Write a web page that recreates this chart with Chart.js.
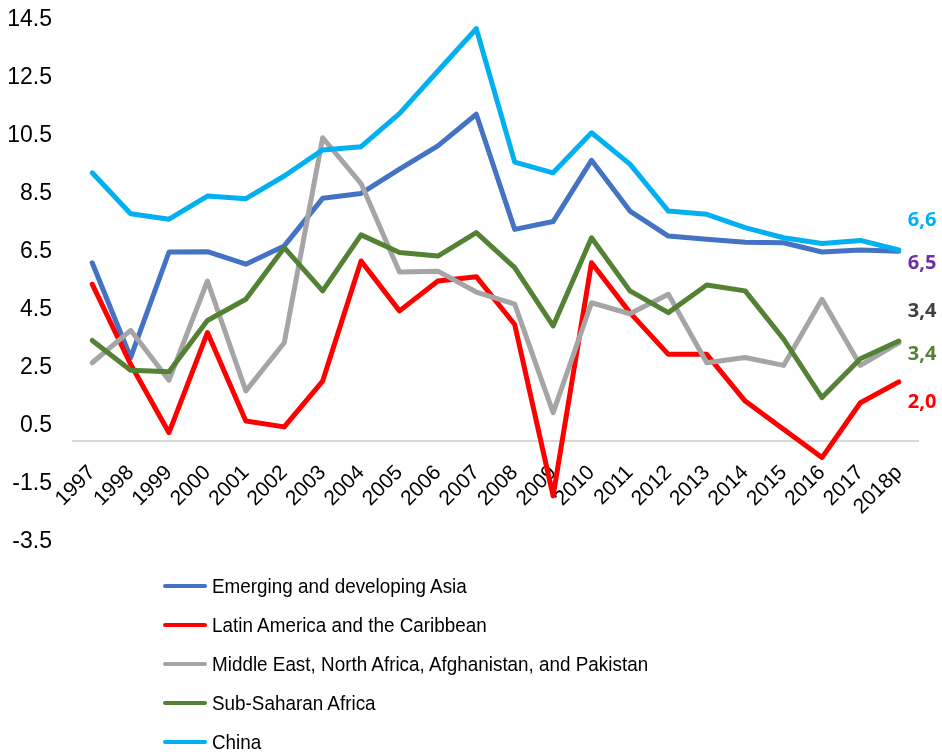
<!DOCTYPE html>
<html>
<head>
<meta charset="utf-8">
<script src="https://cdn.jsdelivr.net/npm/chart.js@4.4.0/dist/chart.umd.min.js"></script>
<style>
  html, body { margin: 0; padding: 0; background: #ffffff; }
  #wrap { position: relative; width: 942px; height: 756px; }
  #chart { position: absolute; left: 0; top: 0; }
  #legend { position: absolute; left: 163px; top: 566px; font-family: "Liberation Sans", Arial, sans-serif; font-size: 20.5px; color: #000; }
  .row { display: flex; align-items: center; height: 39px; white-space: nowrap; }
  .swatch { width: 44px; height: 4px; border-radius: 2px; margin-right: 5px; flex: none; }
  .txt { display: inline-block; transform: scaleX(0.92); transform-origin: left center; }
</style>
</head>
<body>
<div id="wrap">
  <canvas id="chart" width="942" height="756"></canvas>
  <div id="legend"></div>
</div>
<script>
// ---- Data ----
const years = ['1997','1998','1999','2000','2001','2002','2003','2004','2005','2006','2007','2008','2009','2010','2011','2012','2013','2014','2015','2016','2017','2018p'];

const seriesNames = [
  'Emerging and developing Asia',
  'Latin America and the Caribbean',
  'Middle East, North Africa, Afghanistan, and Pakistan',
  'Sub-Saharan Africa',
  'China'
];

const asia  = [6.13, 2.86, 6.50, 6.51, 6.08, 6.71, 8.35, 8.52, 9.36, 10.16, 11.25, 7.28, 7.55, 9.66, 7.91, 7.05, 6.94, 6.84, 6.82, 6.50, 6.57, 6.53];
const latam = [5.39, 2.63, 0.27, 3.72, 0.67, 0.47, 2.05, 6.19, 4.47, 5.50, 5.65, 4.00, -1.91, 6.13, 4.41, 2.97, 2.97, 1.36, 0.39, -0.59, 1.30, 2.02];
const mena  = [2.68, 3.80, 2.08, 5.50, 1.71, 3.37, 10.44, 8.86, 5.81, 5.84, 5.12, 4.70, 0.96, 4.75, 4.37, 5.04, 2.68, 2.86, 2.59, 4.87, 2.59, 3.37];
const ssa   = [3.45, 2.42, 2.37, 4.14, 4.87, 6.65, 5.16, 7.09, 6.48, 6.36, 7.17, 5.96, 3.95, 6.99, 5.16, 4.41, 5.36, 5.16, 3.50, 1.48, 2.82, 3.43];
const china = [9.23, 7.82, 7.63, 8.43, 8.34, 9.12, 10.02, 10.13, 11.27, 12.74, 14.20, 9.60, 9.23, 10.61, 9.53, 7.91, 7.80, 7.34, 6.99, 6.79, 6.90, 6.57];

const endLabels = ['6,5', '2,0', '3,4', '3,4', '6,6'];

const yMin = -3.5, yMax = 14.5, yStep = 2;

// ---- Styles ----
const lineColors  = ['#4472C4', '#FF0000', '#A5A5A5', '#548235', '#00B0F0'];
const labelColors = ['#7030A0', '#FF0000', '#404040', '#548235', '#00B0F0'];
const labelDy     = [12, 20, -31, 13, -30];

const seriesValues = [asia, latam, mena, ssa, china];

const datasets = seriesValues.map((vals, i) => ({
  label: seriesNames[i],
  data: vals,
  borderColor: lineColors[i],
  backgroundColor: lineColors[i],
  borderWidth: 5,
  pointRadius: 0,
  pointHoverRadius: 0,
  tension: 0,
  fill: false,
  borderJoinStyle: 'round',
  borderCapStyle: 'round',
  order: seriesValues.length - i
}));

const endLabelPlugin = {
  id: 'endLabels',
  afterDatasetsDraw(chart) {
    const ctx = chart.ctx;
    ctx.save();
    ctx.font = 'bold 20px "Open Sans", "Liberation Sans", sans-serif';
    ctx.textAlign = 'left';
    ctx.textBaseline = 'middle';
    chart.data.datasets.forEach((ds, i) => {
      const meta = chart.getDatasetMeta(i);
      const pt = meta.data[meta.data.length - 1];
      ctx.fillStyle = labelColors[i];
      ctx.fillText(endLabels[i], pt.x + 9, pt.y + labelDy[i]);
    });
    ctx.restore();
  }
};

const chart = new Chart(document.getElementById('chart'), {
  type: 'line',
  data: { labels: years, datasets },
  options: {
    responsive: false,
    animation: false,
    devicePixelRatio: 1,
    layout: { padding: { left: 7, right: 24, top: 20, bottom: 214 } },
    plugins: {
      legend: { display: false },
      tooltip: { enabled: false }
    },
    scales: {
      x: {
        type: 'category',
        offset: true,
        position: { y: 0 },
        grid: { display: false, drawTicks: false },
        border: { display: true, color: '#D9D9D9', width: 2 },
        afterFit: (scale) => { scale.paddingLeft = 0; scale.paddingRight = 0; },
        ticks: {
          autoSkip: false,
          maxRotation: 45,
          minRotation: 45,
          padding: 20,
          color: '#000000',
          font: { family: '"Liberation Sans", Arial, sans-serif', size: 21 }
        }
      },
      y: {
        min: yMin,
        max: yMax,
        grid: { display: false, drawTicks: false },
        border: { display: false },
        afterFit: (scale) => { scale.width = 66; scale.paddingTop = 0; scale.paddingBottom = 0; },
        ticks: {
          stepSize: yStep,
          padding: 21,
          color: '#000000',
          font: { family: '"Liberation Sans", Arial, sans-serif', size: 23 },
          callback: (v) => Number(v).toFixed(1)
        }
      }
    }
  },
  plugins: [endLabelPlugin]
});

// ---- Legend built from the series names / colours ----
const legend = document.getElementById('legend');
seriesNames.forEach((name, i) => {
  const row = document.createElement('div');
  row.className = 'row';
  const sw = document.createElement('div');
  sw.className = 'swatch';
  sw.style.background = lineColors[i];
  const tx = document.createElement('span');
  tx.className = 'txt';
  tx.textContent = name;
  row.appendChild(sw);
  row.appendChild(tx);
  legend.appendChild(row);
});
</script>
</body>
</html>
